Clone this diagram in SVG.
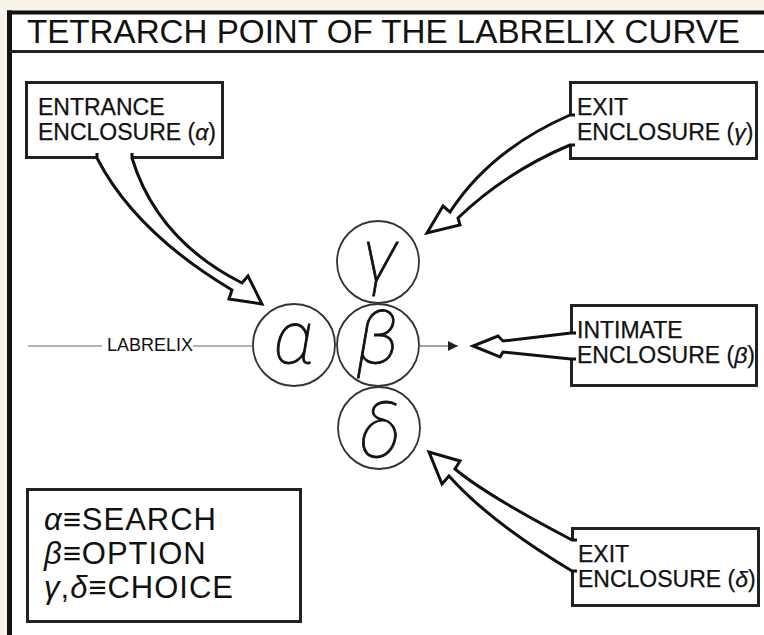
<svg xmlns="http://www.w3.org/2000/svg" width="764" height="635" viewBox="0 0 764 635">
<defs>
<style>
.lbl{font-family:"Liberation Sans",Arial,sans-serif;font-size:23px;fill:#111;stroke:#111;stroke-width:0.25}
.box{fill:#fff;stroke:#222;stroke-width:3}
.arr{fill:#fff;stroke:#111;stroke-width:3;stroke-linejoin:miter}
.circ{fill:#fff;stroke:#333;stroke-width:1.8}
.gk{font-family:Roboto,"Noto Sans","DejaVu Sans",sans-serif;font-weight:100;font-style:italic;font-size:74px;fill:#111;stroke:#111;stroke-width:0.8;text-anchor:middle}
.leg{font-family:"Liberation Sans",Arial,sans-serif;font-size:31px;fill:#111;letter-spacing:1px}
.it{font-style:italic}
</style>
<marker id="ah" viewBox="0 0 10 10" refX="10" refY="5" markerWidth="12" markerHeight="10" markerUnits="userSpaceOnUse" orient="auto">
<path d="M0,0 L10,5 L0,10 Z" fill="#222"/>
</marker>
</defs>
<rect x="0" y="0" width="764" height="635" fill="#f9f2e6"/>
<rect x="9" y="12" width="755" height="623" fill="#fff"/>
<line x1="7" y1="12.5" x2="764" y2="12.5" stroke="#111" stroke-width="4"/>
<line x1="9.5" y1="10.5" x2="9.5" y2="635" stroke="#111" stroke-width="5"/>
<line x1="9" y1="51.5" x2="764" y2="51.5" stroke="#222" stroke-width="3"/>
<text x="27" y="43" font-family="'Liberation Sans',Arial,sans-serif" font-size="33" fill="#111" textLength="713" lengthAdjust="spacingAndGlyphs">TETRARCH POINT OF THE LABRELIX CURVE</text>

<g id="connectors">
<line x1="28" y1="346" x2="102" y2="346" stroke="#999" stroke-width="1.5"/>
<line x1="193" y1="346" x2="252" y2="346" stroke="#999" stroke-width="1.5"/>
<line x1="420" y1="346" x2="458" y2="346" stroke="#444" stroke-width="1" marker-end="url(#ah)"/>
</g>

<g id="labrelix">
<text x="107" y="351" font-family="'Liberation Sans',Arial,sans-serif" font-size="18" fill="#111">LABRELIX</text>
</g>

<g id="entrance">
<rect class="box" x="26.5" y="82.5" width="196" height="75"/>
<path class="arr" d="M97,153 L97,158 Q135,232 232,290 L229,299 L262,304 L248,276 L242,283 Q157,240 132,158 L132,153"/>
<text class="lbl" x="38" y="115">ENTRANCE</text>
<text class="lbl" x="38" y="140">ENCLOSURE (<tspan class="it">α</tspan>)</text>
</g>

<g id="exit-gamma">
<rect class="box" x="570.5" y="82.5" width="186" height="76"/>
<path class="arr" d="M575,115 L570,115 Q490,150 450,212 L443,206 L427,233 L460,225 L458,218 Q506,172 570,145 L575,145"/>
<text class="lbl" x="577" y="115">EXIT</text>
<text class="lbl" x="577" y="140">ENCLOSURE (<tspan class="it">γ</tspan>)</text>
</g>

<g id="intimate">
<rect class="box" x="571.5" y="305.5" width="185" height="80"/>
<path class="arr" d="M576,333 L571,333 L503,341 L498,336 L473,346 L500,357 L503,352 L571,359 L576,359"/>
<text class="lbl" x="577" y="338">INTIMATE</text>
<text class="lbl" x="577" y="363">ENCLOSURE (<tspan class="it">β</tspan>)</text>
</g>

<g id="exit-delta">
<rect class="box" x="572.5" y="528.5" width="186" height="77"/>
<path class="arr" d="M577,540 L572,540 Q486,495 455,469 L460,461 L429,452 L442,484 L449,476 Q490,522 572,571 L577,571"/>
<text class="lbl" x="578" y="562">EXIT</text>
<text class="lbl" x="578" y="587">ENCLOSURE (<tspan class="it">δ</tspan>)</text>
</g>

<g id="alpha">
<circle class="circ" cx="294" cy="345" r="41"/>
<text class="gk" x="294" y="363">α</text>
</g>
<g id="beta">
<circle class="circ" cx="378" cy="345" r="41"/>
<text class="gk" x="378" y="363">β</text>
</g>
<g id="gamma">
<circle class="circ" cx="378" cy="262" r="41"/>
<text class="gk" x="380" y="281">γ</text>
</g>
<g id="delta">
<circle class="circ" cx="379" cy="428" r="41"/>
<text class="gk" x="380" y="457">δ</text>
</g>

<g id="legend">
<rect class="box" x="27.5" y="489.5" width="273" height="132"/>
<text class="leg" x="44" y="530"><tspan class="it">α</tspan>≡SEARCH</text>
<text class="leg" x="44" y="564"><tspan class="it">β</tspan>≡OPTION</text>
<text class="leg" x="44" y="598"><tspan class="it">γ</tspan>,<tspan class="it">δ</tspan>≡CHOICE</text>
</g>
</svg>
